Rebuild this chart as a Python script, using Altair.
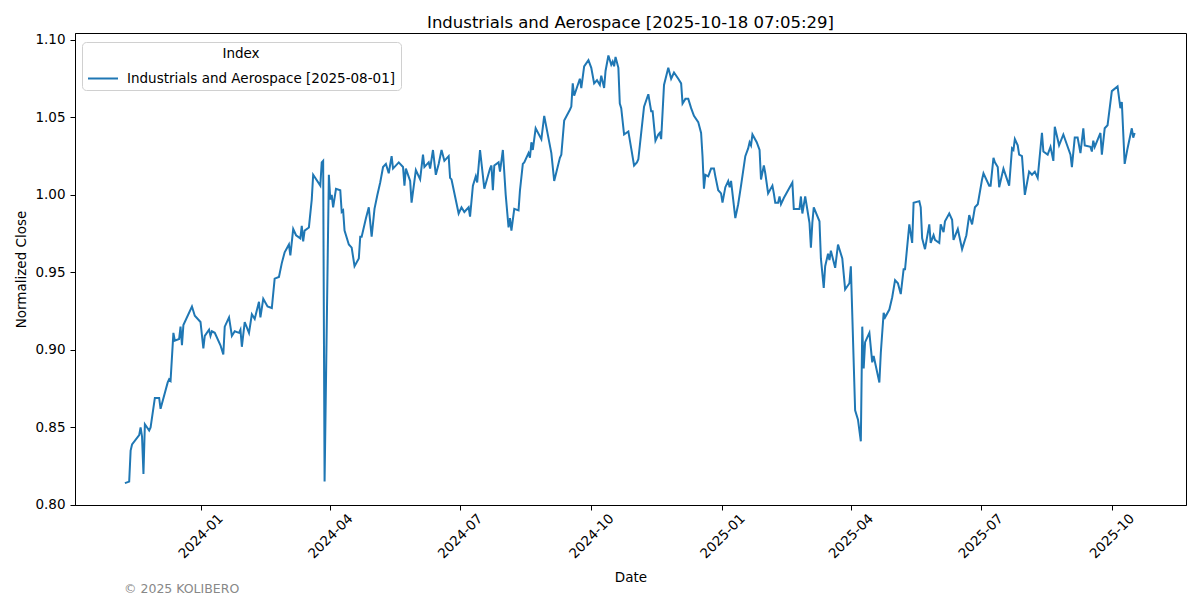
import altair as alt
import pandas as pd

dates = [
    "2023-11-09","2023-11-12","2023-11-13","2023-11-14","2023-11-19","2023-11-20","2023-11-21","2023-11-22",
    "2023-11-23","2023-11-26","2023-11-27","2023-11-30","2023-12-03","2023-12-04","2023-12-09","2023-12-10",
    "2023-12-11","2023-12-13","2023-12-14","2023-12-17","2023-12-18","2023-12-19","2023-12-20","2023-12-26",
    "2023-12-28","2024-01-01","2024-01-03","2024-01-04","2024-01-07","2024-01-08","2024-01-09","2024-01-11",
    "2024-01-15","2024-01-17","2024-01-18","2024-01-21","2024-01-23","2024-01-25","2024-01-28","2024-01-29",
    "2024-01-30","2024-02-01","2024-02-04","2024-02-06","2024-02-08","2024-02-11","2024-02-12","2024-02-14",
    "2024-02-17","2024-02-20","2024-02-22","2024-02-25","2024-02-27","2024-02-29","2024-03-03","2024-03-04",
    "2024-03-06","2024-03-08","2024-03-11","2024-03-12","2024-03-13","2024-03-14","2024-03-17","2024-03-19",
    "2024-03-20","2024-03-25","2024-03-26","2024-03-27","2024-03-28","2024-03-31","2024-04-01","2024-04-02",
    "2024-04-03","2024-04-05","2024-04-08","2024-04-09","2024-04-10","2024-04-11","2024-04-14","2024-04-16",
    "2024-04-18","2024-04-21","2024-04-22","2024-04-23","2024-04-26","2024-04-28","2024-04-30","2024-05-02",
    "2024-05-04","2024-05-06","2024-05-08","2024-05-10","2024-05-12","2024-05-14","2024-05-15","2024-05-19",
    "2024-05-22","2024-05-23","2024-05-24","2024-05-27","2024-05-28","2024-05-31","2024-06-03","2024-06-05",
    "2024-06-06","2024-06-08","2024-06-09","2024-06-10","2024-06-12","2024-06-14","2024-06-16","2024-06-18",
    "2024-06-20","2024-06-23","2024-06-24","2024-06-25","2024-06-30","2024-07-02","2024-07-04","2024-07-07",
    "2024-07-08","2024-07-10","2024-07-12","2024-07-13","2024-07-15","2024-07-18","2024-07-22","2024-07-23",
    "2024-07-24","2024-07-25","2024-07-28","2024-07-29","2024-07-31","2024-08-02","2024-08-04","2024-08-05",
    "2024-08-06","2024-08-08","2024-08-11","2024-08-12","2024-08-14","2024-08-15","2024-08-18","2024-08-19",
    "2024-08-20","2024-08-21","2024-08-23","2024-08-27","2024-08-29","2024-09-03","2024-09-05","2024-09-09",
    "2024-09-10","2024-09-12","2024-09-16","2024-09-17","2024-09-18","2024-09-19","2024-09-23","2024-09-24",
    "2024-09-26","2024-09-29","2024-10-01","2024-10-03","2024-10-05","2024-10-07","2024-10-08","2024-10-10",
    "2024-10-11","2024-10-13","2024-10-15","2024-10-16","2024-10-17","2024-10-18","2024-10-20","2024-10-21",
    "2024-10-22","2024-10-24","2024-10-27","2024-10-29","2024-10-31","2024-11-02","2024-11-03","2024-11-05",
    "2024-11-07","2024-11-10","2024-11-12","2024-11-13","2024-11-15","2024-11-17","2024-11-18","2024-11-19",
    "2024-11-21","2024-11-24","2024-11-26","2024-11-28","2024-12-01","2024-12-03","2024-12-04","2024-12-06",
    "2024-12-08","2024-12-10","2024-12-12","2024-12-15","2024-12-17","2024-12-18","2024-12-19","2024-12-20",
    "2024-12-22","2024-12-24","2024-12-26","2024-12-27","2024-12-29","2024-12-31","2025-01-01","2025-01-03",
    "2025-01-05","2025-01-06","2025-01-07","2025-01-10","2025-01-12","2025-01-14","2025-01-17","2025-01-19",
    "2025-01-20","2025-01-21","2025-01-22","2025-01-25","2025-01-27","2025-01-28","2025-01-30","2025-01-31",
    "2025-02-02","2025-02-05","2025-02-06","2025-02-07","2025-02-09","2025-02-10","2025-02-11","2025-02-13",
    "2025-02-19","2025-02-20","2025-02-24","2025-02-25","2025-02-26","2025-02-28","2025-03-03","2025-03-04",
    "2025-03-05","2025-03-06","2025-03-10","2025-03-11","2025-03-13","2025-03-14","2025-03-16","2025-03-17",
    "2025-03-18","2025-03-21","2025-03-23","2025-03-26","2025-03-28","2025-03-31","2025-04-01","2025-04-04",
    "2025-04-06","2025-04-08","2025-04-09","2025-04-10","2025-04-11","2025-04-14","2025-04-16","2025-04-17",
    "2025-04-21","2025-04-22","2025-04-24","2025-04-25","2025-04-28","2025-04-30","2025-05-02","2025-05-04",
    "2025-05-06","2025-05-08","2025-05-09","2025-05-12","2025-05-14","2025-05-15","2025-05-19","2025-05-20",
    "2025-05-21","2025-05-23","2025-05-26","2025-05-27","2025-05-29","2025-05-30","2025-06-02","2025-06-03",
    "2025-06-05","2025-06-06","2025-06-09","2025-06-11","2025-06-12","2025-06-15","2025-06-18","2025-06-21",
    "2025-06-23","2025-06-25","2025-06-27","2025-06-29","2025-07-02","2025-07-03","2025-07-07","2025-07-08",
    "2025-07-10","2025-07-11","2025-07-13","2025-07-14","2025-07-17","2025-07-21","2025-07-23","2025-07-24",
    "2025-07-25","2025-07-27","2025-07-28","2025-07-30","2025-08-01","2025-08-04","2025-08-06","2025-08-08",
    "2025-08-10","2025-08-13","2025-08-14","2025-08-17","2025-08-19","2025-08-21","2025-08-22","2025-08-25",
    "2025-08-28","2025-09-02","2025-09-03","2025-09-05","2025-09-07","2025-09-09","2025-09-11","2025-09-12",
    "2025-09-16","2025-09-17","2025-09-18","2025-09-19","2025-09-23","2025-09-24","2025-09-26","2025-09-28",
    "2025-10-01","2025-10-05","2025-10-07","2025-10-08","2025-10-10","2025-10-12","2025-10-15","2025-10-16",
    "2025-10-17",
]

close = [
    0.814,0.815,0.835,0.839,0.845,0.850,0.844,0.820,
    0.852,0.848,0.850,0.869,0.869,0.862,0.879,0.881,
    0.880,0.911,0.906,0.907,0.915,0.903,0.916,0.928,
    0.922,0.918,0.901,0.909,0.913,0.909,0.912,0.911,
    0.903,0.897,0.915,0.921,0.909,0.912,0.911,0.913,
    0.902,0.918,0.911,0.923,0.920,0.931,0.921,0.933,
    0.928,0.927,0.946,0.947,0.956,0.963,0.968,0.961,
    0.978,0.974,0.972,0.980,0.970,0.977,0.979,0.997,
    1.013,1.006,1.021,1.022,0.815,1.013,0.997,1.000,
    0.992,1.004,1.003,0.989,0.990,0.977,0.968,0.966,
    0.954,0.959,0.973,0.973,0.985,0.992,0.973,0.991,
    1.000,1.008,1.018,1.020,1.014,1.025,1.017,1.021,
    1.018,1.006,1.017,1.009,0.995,1.016,1.010,1.026,
    1.018,1.020,1.021,1.017,1.029,1.013,1.020,1.029,
    1.022,1.025,1.011,1.010,0.988,0.992,0.989,0.992,
    0.986,1.006,1.012,1.008,1.029,1.004,1.017,1.019,
    1.003,1.019,1.021,1.015,1.029,1.000,0.979,0.985,
    0.977,0.991,0.990,1.003,1.020,1.021,1.027,1.024,
    1.034,1.029,1.043,1.036,1.051,1.027,1.009,1.024,
    1.026,1.048,1.055,1.057,1.072,1.064,1.075,1.069,
    1.083,1.087,1.082,1.072,1.074,1.071,1.077,1.069,
    1.080,1.090,1.084,1.086,1.083,1.089,1.082,1.059,
    1.056,1.039,1.041,1.030,1.019,1.021,1.023,1.040,
    1.057,1.065,1.054,1.054,1.035,1.039,1.040,1.036,
    1.071,1.082,1.075,1.079,1.075,1.072,1.059,1.062,
    1.062,1.056,1.051,1.047,1.040,1.025,1.004,1.013,
    1.012,1.017,1.017,1.012,1.003,1.001,0.995,1.005,
    1.009,1.005,1.009,0.985,0.994,1.006,1.025,1.030,
    1.034,1.032,1.039,1.034,1.029,1.010,1.019,1.014,
    1.001,1.006,1.001,0.995,0.995,0.999,0.994,0.998,
    1.008,0.991,0.991,0.999,0.988,0.999,0.982,0.966,
    0.982,0.992,0.983,0.959,0.940,0.954,0.962,0.958,
    0.964,0.953,0.968,0.959,0.939,0.943,0.954,0.861,
    0.855,0.841,0.915,0.888,0.905,0.911,0.892,0.896,
    0.879,0.898,0.924,0.921,0.926,0.934,0.945,0.943,
    0.936,0.952,0.952,0.981,0.969,0.995,0.996,0.992,
    0.972,0.965,0.981,0.969,0.974,0.971,0.969,0.981,
    0.976,0.983,0.988,0.984,0.971,0.978,0.965,0.974,
    0.987,0.981,0.992,0.994,1.010,1.014,1.006,1.006,
    1.024,1.021,1.018,1.005,1.017,1.006,1.030,1.029,
    1.036,1.032,1.026,1.025,1.000,1.015,1.013,1.015,
    1.011,1.040,1.028,1.026,1.031,1.022,1.044,1.032,
    1.039,1.026,1.018,1.037,1.037,1.027,1.043,1.032,
    1.031,1.028,1.035,1.031,1.040,1.026,1.043,1.045,
    1.067,1.070,1.056,1.060,1.020,1.030,1.043,1.037,
    1.040,
]

series_name = "Industrials and Aerospace [2025-08-01]"
y_ticks = [0.80, 0.85, 0.90, 0.95, 1.00, 1.05, 1.10]
x_tick_months = [(2024, 1), (2024, 4), (2024, 7), (2024, 10), (2025, 1), (2025, 4), (2025, 7), (2025, 10)]

df = pd.DataFrame({"Date": dates, "Close": close, "Index": [series_name] * len(dates)})

FONT = "DejaVu Sans"

line = alt.Chart(df).mark_line(strokeWidth=2, clip=True).encode(
    x=alt.X(
        "Date:T",
        scale=alt.Scale(
            type="utc",
            domain=[alt.DateTime(year=2023, month=10, date=5, utc=True),
                    alt.DateTime(year=2025, month=11, date=22, utc=True)],
            nice=False,
        ),
        axis=alt.Axis(
            title="Date",
            values=[alt.DateTime(year=y, month=m, date=1, utc=True) for y, m in x_tick_months],
            format="%Y-%m",
            labelAngle=315,
            labelAlign="center",
            labelBaseline="middle",
            labelPadding=26,
            titleY=72,
            titleBaseline="middle",
        ),
    ),
    y=alt.Y(
        "Close:Q",
        scale=alt.Scale(domain=[0.7999, 1.1045], nice=False, zero=False),
        axis=alt.Axis(
            title="Normalized Close",
            values=y_ticks,
            format=".2f",
            titleX=-54,
            titleBaseline="middle",
        ),
    ),
    color=alt.Color(
        "Index:N",
        scale=alt.Scale(range=["#1f77b4"]),
        legend=alt.Legend(
            title="Index",
            orient="none",
            legendX=7,
            legendY=9,
            titleAnchor="middle",
            symbolType="stroke",
            symbolStrokeWidth=2,
            symbolSize=900,
            strokeColor="#d0d0d0",
            fillColor="white",
            cornerRadius=4,
            padding=5,
            titlePadding=2,
            labelOffset=8,
        ),
    ),
)

watermark = alt.Chart(pd.DataFrame({"t": ["© 2025 KOLIBERO"]})).mark_text(
    align="left", baseline="middle", font=FONT, fontSize=12.5, color="#888888"
).encode(text="t:N", x=alt.value(49), y=alt.value(556))

chart = alt.layer(line, watermark).properties(
    width=1111,
    height=472,
    title=alt.TitleParams(
        "Industrials and Aerospace [2025-10-18 07:05:29]",
        font=FONT, fontSize=16.5, fontWeight="normal", anchor="middle", offset=1, color="black",
    ),
    autosize=alt.AutoSizeParams(type="none"),
    padding={"left": 67, "top": 25, "right": 6, "bottom": 92},
).configure_view(
    stroke="black", strokeWidth=1
).configure_axis(
    labelFont=FONT, titleFont=FONT, labelFontSize=13.5, titleFontSize=13.5,
    labelColor="black", titleColor="black", titleFontWeight="normal",
    tickColor="black", domainColor="black", tickSize=5, labelPadding=5,
    grid=False, domainWidth=1, tickWidth=1,
).configure_legend(
    labelFont=FONT, titleFont=FONT, labelFontSize=13.5, titleFontSize=13.5,
    titleFontWeight="normal", labelColor="black", titleColor="black", labelLimit=400,
)

chart.save("out.html", embed_options={"renderer": "svg", "actions": False})
